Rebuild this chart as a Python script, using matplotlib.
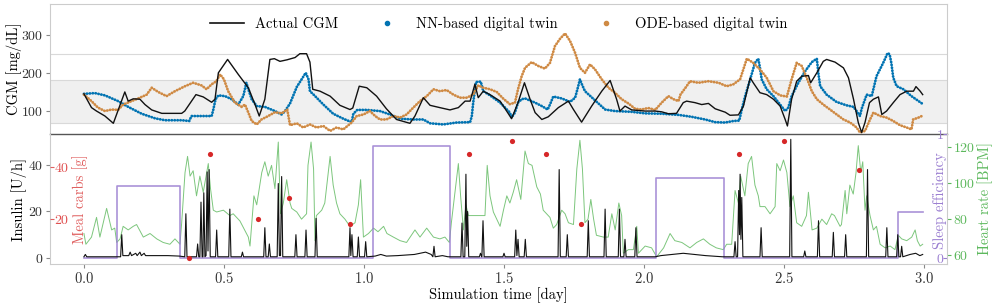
import numpy as np
import matplotlib
matplotlib.use('Agg')
import matplotlib.pyplot as plt
from matplotlib.lines import Line2D

plt.rcParams['font.family'] = 'cmr10'
plt.rcParams['mathtext.fontset'] = 'cm'
plt.rcParams['axes.formatter.use_mathtext'] = True
plt.rcParams['font.size'] = 10.5
plt.rcParams['xtick.labelsize'] = 10.5
plt.rcParams['ytick.labelsize'] = 10

## ---------------- data (time in days) ----------------
cgm_t = [0.0, 0.027, 0.045, 0.075, 0.105, 0.146, 0.158, 0.176, 0.2, 0.218, 0.242, 0.278, 0.349, 0.36, 0.40,
         0.426, 0.456, 0.468, 0.48, 0.513, 0.551, 0.587, 0.611, 0.626, 0.646, 0.664, 0.68, 0.70, 0.725, 0.754,
         0.771, 0.795, 0.807, 0.817, 0.843, 0.879, 0.914, 0.95, 0.96, 0.983, 1.01, 1.045, 1.08, 1.116, 1.164,
         1.182, 1.212, 1.236, 1.271, 1.307, 1.337, 1.361, 1.379, 1.396, 1.408, 1.426, 1.45, 1.486, 1.505, 1.527,
         1.55, 1.573, 1.593, 1.611, 1.635, 1.658, 1.694, 1.73, 1.748, 1.777, 1.813, 1.849, 1.879, 1.902, 1.914,
         1.932, 1.956, 2.004, 2.04, 2.063, 2.087, 2.116, 2.14, 2.152, 2.182, 2.206, 2.23, 2.254, 2.29, 2.307,
         2.337, 2.355, 2.379, 2.39, 2.414, 2.438, 2.462, 2.486, 2.504, 2.512, 2.527, 2.545, 2.563, 2.587, 2.595,
         2.617, 2.64, 2.652, 2.682, 2.712, 2.73, 2.748, 2.765, 2.777, 2.789, 2.805, 2.819, 2.837, 2.849, 2.866,
         2.89, 2.914, 2.938, 2.962, 2.971, 2.986, 2.995]
cgm_v = [145, 109, 100, 87, 68, 150, 126, 132, 131, 117, 103, 94, 94, 100, 143,
         137, 123, 131, 200, 235, 196, 161, 117, 87, 131, 235, 237, 230, 234, 240,
         250, 250, 228, 157, 152, 139, 115, 104, 108, 165, 161, 139, 106, 78, 68,
         87, 135, 115, 109, 103, 109, 126, 126, 170, 135, 152, 143, 126, 105, 80,
         122, 174, 131, 96, 78, 85, 109, 126, 104, 71, 113, 152, 180, 131, 100,
         113, 103, 100, 100, 98, 93, 94, 122, 126, 122, 117, 120, 106, 97, 89,
         90, 113, 187, 174, 148, 143, 131, 113, 78, 61, 131, 178, 191, 193, 174,
         200, 230, 235, 228, 213, 187, 131, 70, 44, 70, 122, 131, 137, 91, 100,
         122, 143, 152, 152, 164, 152, 143]

nn_t = [0.0, 0.039, 0.075, 0.122, 0.158, 0.206, 0.254, 0.289, 0.349, 0.376, 0.384, 0.42, 0.456, 0.462, 0.47,
        0.48, 0.504, 0.527, 0.551, 0.569, 0.58, 0.587, 0.599, 0.617, 0.646, 0.682, 0.706, 0.718, 0.736, 0.76,
        0.792, 0.802, 0.807, 0.82, 0.855, 0.89, 0.926, 0.956, 0.962, 0.976, 1.01, 1.057, 1.093, 1.129, 1.176,
        1.212, 1.236, 1.283, 1.331, 1.379, 1.385, 1.39, 1.40, 1.417, 1.426, 1.45, 1.486, 1.521, 1.527, 1.539,
        1.55, 1.563, 1.575, 1.611, 1.635, 1.656, 1.664, 1.676, 1.706, 1.736, 1.754, 1.765, 1.771, 1.778, 1.789,
        1.861, 1.896, 1.956, 2.004, 2.063, 2.123, 2.17, 2.218, 2.254, 2.289, 2.319, 2.34, 2.349, 2.361, 2.379,
        2.396, 2.408, 2.414, 2.42, 2.438, 2.462, 2.486, 2.504, 2.515, 2.527, 2.551, 2.575, 2.599, 2.617, 2.623,
        2.629, 2.652, 2.687, 2.723, 2.748, 2.759, 2.771, 2.777, 2.795, 2.813, 2.83, 2.854, 2.87, 2.877, 2.883,
        2.89, 2.902, 2.926, 2.955, 2.998]
nn_v = [145, 147, 141, 126, 111, 93, 81, 76, 76, 74, 87, 87, 87, 104, 131,
        141, 139, 131, 117, 139, 174, 157, 131, 113, 111, 100, 91, 100, 120, 163,
        200, 183, 152, 143, 117, 93, 80, 71, 93, 103, 103, 100, 91, 80, 78,
        78, 68, 65, 70, 71, 87, 122, 176, 177, 152, 141, 122, 96, 83, 96,
        122, 131, 133, 122, 113, 104, 117, 138, 133, 124, 135, 165, 183, 170, 152,
        104, 100, 98, 94, 93, 90, 85, 78, 71, 70, 74, 75, 104, 139, 183,
        226, 237, 213, 183, 157, 139, 117, 100, 109, 139, 174, 204, 228, 237, 196,
        165, 143, 124, 115, 111, 100, 87, 106, 143, 139, 191, 226, 252, 248, 226,
        187, 165, 157, 139, 117]

ode_t = [0.0, 0.027, 0.05, 0.075, 0.099, 0.122, 0.14, 0.17, 0.2, 0.224, 0.242, 0.265, 0.295, 0.325, 0.361,
         0.39, 0.42, 0.438, 0.456, 0.473, 0.486, 0.5, 0.515, 0.539, 0.563, 0.575, 0.587, 0.599, 0.617, 0.634,
         0.658, 0.682, 0.706, 0.726, 0.736, 0.76, 0.783, 0.807, 0.831, 0.855, 0.879, 0.902, 0.926, 0.956, 0.974,
         0.998, 1.021, 1.04, 1.057, 1.08, 1.105, 1.129, 1.152, 1.176, 1.2, 1.224, 1.248, 1.271, 1.295, 1.319,
         1.343, 1.367, 1.39, 1.408, 1.426, 1.45, 1.474, 1.498, 1.521, 1.539, 1.55, 1.563, 1.575, 1.599, 1.622,
         1.646, 1.664, 1.682, 1.7, 1.718, 1.736, 1.754, 1.771, 1.789, 1.807, 1.825, 1.849, 1.873, 1.896, 1.92,
         1.944, 1.968, 1.991, 2.015, 2.04, 2.063, 2.087, 2.105, 2.123, 2.13, 2.152, 2.164, 2.194, 2.23, 2.266,
         2.295, 2.319, 2.343, 2.367, 2.39, 2.414, 2.438, 2.462, 2.486, 2.51, 2.527, 2.545, 2.563, 2.581, 2.599,
         2.617, 2.64, 2.664, 2.688, 2.712, 2.736, 2.759, 2.771, 2.789, 2.807, 2.819, 2.843, 2.866, 2.89, 2.914,
         2.938, 2.955, 2.961, 2.98, 2.998]
ode_v = [143, 126, 109, 100, 104, 103, 117, 126, 135, 143, 161, 150, 139, 152, 165,
         174, 167, 157, 170, 178, 196, 183, 152, 122, 111, 117, 96, 74, 65, 78,
         87, 97, 94, 104, 63, 68, 57, 65, 57, 61, 48, 57, 52, 70, 87,
         91, 100, 87, 78, 78, 87, 83, 91, 109, 126, 139, 157, 152, 155, 143,
         135, 135, 143, 167, 161, 157, 150, 132, 118, 122, 157, 191, 213, 228, 218,
         211, 226, 270, 289, 303, 283, 252, 213, 200, 222, 209, 183, 161, 148, 131,
         120, 106, 104, 108, 103, 122, 139, 131, 126, 143, 165, 178, 174, 178, 174,
         165, 170, 183, 237, 226, 209, 187, 152, 141, 138, 183, 226, 218, 187, 152,
         131, 117, 104, 91, 78, 70, 57, 44, 48, 78, 96, 87, 83, 74, 63,
         57, 52, 78, 83, 89]

ins_t = [0.0, 0.005, 0.01, 0.12, 0.131, 0.135, 0.139, 0.16, 0.165, 0.17, 0.185, 0.19, 0.2, 0.205, 0.215,
         0.22, 0.25, 0.3, 0.34, 0.36, 0.364, 0.368, 0.402, 0.406, 0.41, 0.414, 0.418, 0.422, 0.425, 0.428,
         0.432, 0.436, 0.44, 0.443, 0.447, 0.451, 0.47, 0.474, 0.478, 0.517, 0.521, 0.525, 0.562, 0.566, 0.57,
         0.642, 0.646, 0.65, 0.658, 0.662, 0.666, 0.69, 0.694, 0.698, 0.702, 0.706, 0.71, 0.753, 0.757, 0.761,
         0.789, 0.793, 0.797, 0.825, 0.829, 0.833, 0.946, 0.95, 0.953, 0.957, 0.961, 0.976, 0.98, 0.984, 1.002,
         1.006, 1.01, 1.04, 1.06, 1.08, 1.12, 1.18, 1.22, 1.24, 1.246, 1.25, 1.254, 1.28, 1.3, 1.346,
         1.35, 1.354, 1.36, 1.364, 1.367, 1.37, 1.374, 1.412, 1.416, 1.42, 1.421, 1.425, 1.429, 1.496, 1.5,
         1.504, 1.538, 1.542, 1.546, 1.55, 1.554, 1.572, 1.576, 1.58, 1.693, 1.697, 1.701, 1.722, 1.726, 1.73,
         1.797, 1.801, 1.805, 1.857, 1.861, 1.865, 1.908, 1.912, 1.916, 1.928, 1.932, 1.936, 1.967, 1.971, 1.975,
         2.04, 2.06, 2.1, 2.14, 2.18, 2.22, 2.28, 2.321, 2.325, 2.329, 2.334, 2.338, 2.341, 2.343, 2.346,
         2.349, 2.353, 2.414, 2.418, 2.422, 2.52, 2.524, 2.528, 2.57, 2.574, 2.578, 2.619, 2.623, 2.627, 2.672,
         2.676, 2.68, 2.716, 2.72, 2.724, 2.794, 2.798, 2.802, 2.863, 2.867, 2.871, 2.902, 2.906, 2.91, 2.916,
         2.92, 2.924, 2.95, 2.97, 2.985, 2.995]
ins_v = [0.5, 1.5, 0.5, 0.5, 0.5, 10, 1.0, 1.0, 2.5, 1.0, 2.0, 1.0, 2.5, 1.0, 2.0,
         1.0, 1.0, 1.0, 0.8, 0.5, 19, 0.5, 0.5, 6, 0.5, 0.5, 24, 0.5, 0.5, 28,
         0.5, 1.0, 37, 3, 38, 0.5, 0.5, 12, 0.5, 0.5, 21, 0.5, 0.5, 2.5, 0.5,
         0.5, 13, 0.5, 0.5, 6, 0.5, 0.5, 32, 1.0, 1.0, 35, 0.5, 0.5, 10, 0.5,
         0.5, 12, 0.5, 0.5, 17, 0.5, 0.5, 13, 1, 10, 0.5, 0.5, 9, 0.5, 0.5,
         7, 0.5, 0.8, 1.5, 0.8, 1.0, 1.5, 2.5, 1.5, 0.5, 5, 0.5, 1.0, 0.5, 0.5,
         15, 0.5, 0.5, 36, 5, 20, 0.5, 0.5, 2, 0.5, 0.5, 16, 0.5, 0.5, 2,
         0.5, 0.5, 12, 1, 8, 0.5, 0.5, 8, 0.5, 0.5, 38, 0.5, 0.5, 10, 0.5,
         0.5, 16, 0.5, 0.5, 21, 0.5, 0.5, 21, 0.5, 0.5, 8, 0.5, 0.5, 13, 0.5,
         0.5, 1.0, 1.5, 2.0, 1.5, 1.0, 0.5, 0.5, 7, 0.5, 0.5, 29, 10, 36, 8,
         26, 0.5, 0.5, 13, 0.5, 0.5, 51, 0.5, 0.5, 3, 0.5, 0.5, 16, 0.5, 0.5,
         11, 0.5, 0.5, 10, 0.5, 0.5, 38, 0.5, 0.5, 13, 0.5, 0.5, 10, 0.5, 0.5,
         5, 0.5, 1.5, 2.0, 1.0, 1.5]

carb_t = [0.374, 0.45, 0.623, 0.733, 0.95, 1.375, 1.527, 1.649, 1.774, 2.339, 2.498, 2.769]
carb_v = [5, 45, 20, 28, 18, 45, 50, 45, 18, 45, 50, 39]

sleep_t = [0.0, 0.118, 0.343, 1.031, 1.307, 2.043, 2.286, 2.906, 2.995]
sleep_v = [0.0, 0.58, 0.0, 0.905, 0.0, 0.648, 0.0, 0.368, 0.368]

hr_t = [0.0, 0.007, 0.027, 0.045, 0.057, 0.081, 0.099, 0.11, 0.117, 0.129, 0.14, 0.158, 0.176, 0.188, 0.212,
        0.236, 0.26, 0.283, 0.307, 0.325, 0.343, 0.349, 0.361, 0.37, 0.379, 0.39, 0.402, 0.414, 0.426, 0.444,
        0.452, 0.462, 0.474, 0.498, 0.521, 0.533, 0.557, 0.587, 0.593, 0.607, 0.617, 0.635, 0.646, 0.658, 0.67,
        0.682, 0.694, 0.702, 0.712, 0.724, 0.736, 0.742, 0.76, 0.777, 0.795, 0.8, 0.811, 0.82, 0.825, 0.83,
        0.849, 0.86, 0.879, 0.89, 0.902, 0.914, 0.932, 0.95, 0.968, 0.98, 0.988, 0.998, 1.016, 1.034, 1.05,
        1.07, 1.082, 1.105, 1.129, 1.152, 1.182, 1.2, 1.224, 1.248, 1.271, 1.289, 1.305, 1.312, 1.337, 1.345,
        1.355, 1.364, 1.373, 1.385, 1.432, 1.44, 1.45, 1.462, 1.474, 1.486, 1.498, 1.51, 1.521, 1.533, 1.545,
        1.56, 1.575, 1.587, 1.6, 1.617, 1.63, 1.64, 1.658, 1.664, 1.676, 1.688, 1.706, 1.718, 1.73, 1.748,
        1.76, 1.771, 1.78, 1.789, 1.8, 1.81, 1.82, 1.83, 1.855, 1.872, 1.885, 1.897, 1.91, 1.92, 1.926,
        1.944, 1.962, 1.974, 1.98, 2.004, 2.027, 2.045, 2.07, 2.093, 2.11, 2.135, 2.164, 2.188, 2.212, 2.235,
        2.258, 2.283, 2.295, 2.313, 2.325, 2.337, 2.345, 2.36, 2.372, 2.384, 2.396, 2.408, 2.414, 2.432, 2.45,
        2.468, 2.474, 2.486, 2.498, 2.51, 2.521, 2.533, 2.545, 2.563, 2.58, 2.587, 2.6, 2.617, 2.635, 2.652,
        2.67, 2.68, 2.7, 2.705, 2.718, 2.724, 2.735, 2.747, 2.757, 2.765, 2.774, 2.781, 2.789, 2.795, 2.807,
        2.819, 2.83, 2.843, 2.861, 2.879, 2.896, 2.908, 2.92, 2.938, 2.956, 2.968, 2.976, 2.986, 2.995]
hr_v = [72, 66, 70, 81, 70, 86, 74, 75, 67, 69, 76, 74, 76, 77, 70,
        72, 69, 67, 66, 69, 66, 78, 106, 115, 104, 107, 93, 104, 95, 111,
        97, 85, 84, 85, 82, 83, 79, 70, 65, 93, 88, 106, 112, 104, 110,
        97, 123, 83, 89, 102, 89, 86, 84, 80, 83, 110, 123, 108, 68, 82,
        85, 89, 115, 99, 89, 83, 80, 76, 78, 88, 102, 70, 72, 75, 73,
        76, 72, 70, 68, 67, 74, 70, 75, 70, 69, 70, 67, 78, 111, 93,
        74, 88, 82, 82, 82, 110, 93, 84, 80, 76, 85, 93, 89, 95, 102,
        91, 118, 111, 110, 98, 94, 85, 82, 81, 75, 77, 85, 83, 78, 77,
        108, 124, 108, 78, 80, 91, 80, 71, 70, 70, 83, 74, 89, 82, 61,
        63, 63, 76, 61, 65, 64, 59, 64, 72, 68, 67, 64, 67, 69, 66,
        64, 63, 66, 66, 96, 89, 104, 93, 111, 115, 99, 93, 87, 87, 83,
        87, 111, 107, 113, 106, 87, 93, 78, 76, 82, 95, 74, 75, 80, 77,
        83, 82, 76, 77, 96, 83, 99, 94, 106, 121, 106, 112, 85, 93, 82,
        74, 76, 66, 64, 65, 63, 71, 69, 68, 70, 74, 68, 65, 66]

## ---------------- colours ----------------
c_nn = '#0173b2'
c_ode = '#cf8a44'
c_carb = '#d62728'
c_sleep = '#9b7fd1'
c_hr = '#5cb85c'
c_grid = '#d9d9d9'
c_frame = '#cccccc'

fig = plt.figure(figsize=(9.97, 3.07), dpi=100)
ax_cgm = fig.add_axes([0.0502, 0.5635, 0.8997, 0.4235])
ax_ins = fig.add_axes([0.0502, 0.1401, 0.8997, 0.4235], sharex=ax_cgm)

## ---- top panel: CGM ----
ax_cgm.axhspan(70, 180, color='#f0f0f0', zorder=0, lw=0)
for lvl in [70, 180, 250]:
    ax_cgm.axhline(lvl, color=c_grid, lw=0.8, zorder=0.5)
ax_cgm.plot(cgm_t, cgm_v, color='#111111', lw=1.0, zorder=3)
# digital twins drawn as dense dots
ax_cgm.plot(nn_t, nn_v, color=c_nn, lw=2.0, ls=(0, (0.1, 0.95)), dash_capstyle='round', zorder=2)
ax_cgm.plot(ode_t, ode_v, color=c_ode, lw=2.0, ls=(0, (0.1, 0.95)), dash_capstyle='round', zorder=2)
ax_cgm.set_ylim(40, 380)
ax_cgm.set_yticks([100, 200, 300])
ax_cgm.set_ylabel('CGM [mg/dL]')
ax_cgm.yaxis.set_label_coords(-0.040, 0.5)
ax_cgm.yaxis.label.set_va('center')
ax_cgm.tick_params(axis='y', color='#888888', labelcolor='#333333', length=3, width=0.8, pad=2)
ax_cgm.tick_params(axis='x', bottom=False, labelbottom=False)
for s in ax_cgm.spines.values():
    s.set_color(c_frame)
ax_cgm.spines['bottom'].set_color('#555555')
ax_cgm.spines['bottom'].set_linewidth(1.0)

handles = [Line2D([], [], color='#111111', lw=1.2),
           Line2D([], [], color=c_nn, marker='o', ms=3, ls='none'),
           Line2D([], [], color=c_ode, marker='o', ms=3, ls='none')]
ax_cgm.legend(handles, ['Actual CGM', 'NN-based digital twin', 'ODE-based digital twin'],
              loc='upper center', bbox_to_anchor=(0.5, 1.0), ncol=3, frameon=False,
              columnspacing=2.2, handlelength=2.3)

## ---- bottom panel: insulin + twins ----
ax_hr = ax_ins.twinx()
ax_sleep = ax_ins.twinx()
ax_carb = ax_ins.twinx()
ax_hr.set_zorder(1)
ax_sleep.set_zorder(2)
ax_ins.set_zorder(3)
ax_carb.set_zorder(4)
ax_ins.patch.set_visible(False)

ax_ins.plot(ins_t, ins_v, color='#111111', lw=0.8)
ax_ins.set_ylim(-2.6, 53.3)
ax_ins.set_yticks([0, 20, 40])
ax_ins.set_xlim(-0.121, 3.082)
ax_ins.set_xticks(np.arange(0, 3.01, 0.5))
ax_ins.set_ylabel('Insulin [U/h]')
ax_ins.yaxis.set_label_coords(-0.035, 0.5)
ax_ins.yaxis.label.set_va('center')
ax_ins.set_xlabel('Simulation time [day]', labelpad=1)
ax_ins.tick_params(axis='both', color='#888888', labelcolor='#333333', length=3, width=0.8, pad=2)
for s in ax_ins.spines.values():
    s.set_color(c_frame)
ax_ins.spines['top'].set_visible(False)

ax_hr.plot(hr_t, hr_v, color=c_hr, lw=0.7, alpha=0.8)
ax_hr.set_ylim(55, 127.5)
ax_hr.set_yticks([60, 80, 100, 120])
ax_hr.tick_params(axis='y', color=c_hr, labelcolor=c_hr, length=3, width=0.8, pad=1)
ax_hr.set_ylabel('Heart rate [BPM]', color=c_hr)
ax_hr.yaxis.set_label_coords(1.042, 0.5)
ax_hr.yaxis.label.set_va('center')

ax_sleep.plot(sleep_t, sleep_v, color=c_sleep, lw=1.2, drawstyle='steps-post', alpha=0.85)
ax_sleep.set_ylim(-0.05, 1.0)
ax_sleep.set_yticks([0, 1])
ax_sleep.tick_params(axis='y', direction='in', color=c_sleep, labelcolor=c_sleep, length=3, width=0.8, pad=-8)
ax_sleep.set_ylabel('Sleep efficiency', color=c_sleep)
ax_sleep.yaxis.set_label_coords(0.992, 0.49)
ax_sleep.yaxis.label.set_va('center')

ax_carb.scatter(carb_t, carb_v, color=c_carb, s=14, zorder=5, lw=0)
ax_carb.set_ylim(2.7, 52.7)
ax_carb.set_yticks([20, 40])
ax_carb.yaxis.set_ticks_position('left')
ax_carb.yaxis.set_label_position('left')
ax_carb.tick_params(axis='y', direction='in', color='#e06060', labelcolor='#e05050', length=3, width=0.8, pad=-14)
ax_carb.set_ylabel('Meal carbs [g]', color='#e06060')
ax_carb.yaxis.set_label_coords(0.0334, 0.5)
ax_carb.yaxis.label.set_va('center')

for a in [ax_hr, ax_sleep, ax_carb]:
    for s in a.spines.values():
        s.set_visible(False)

fig.savefig('out.png', dpi=100)
